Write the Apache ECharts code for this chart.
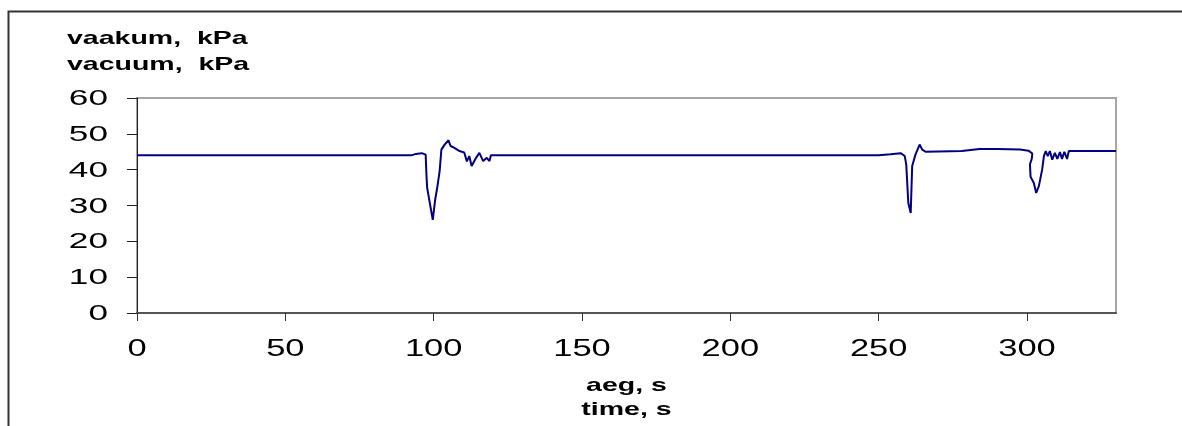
<!DOCTYPE html>
<html>
<head>
<meta charset="utf-8">
<script src="https://cdn.jsdelivr.net/npm/echarts@6/dist/echarts.min.js"></script>
<style>
html,body{margin:0;padding:0;background:#fff;}
#chart{width:1182px;height:426px;}
</style>
</head>
<body>
<div id="chart"></div>
<script>
// ---- data ----
var timeS = [0,10,20,30,40,50,60,70,80,90,92.5,94,96,97.3,97.6,97.8,98.3,99.7,100.5,101.2,102,102.6,103.7,105,105.7,107,108.7,110.3,111.2,112,112.8,114.3,115.4,116,116.7,117.9,118.8,119.3,130,150,170,190,210,230,250,254,257.4,258.8,259.3,260,260.8,261.3,262.4,263.8,264.7,265.8,270,278,284,290,297.7,300.5,301.8,301.6,301.0,301.2,302.3,303.1,304,305.1,305.7,306.3,307,307.7,308.5,309.4,310.2,311.1,311.8,312.6,313.5,314.1,320,330];
var vacuumKPa = [44,44,44,44,44,44,44,44,44,44,44,44.4,44.6,44.2,38,35,32.6,26,31.6,35,39.5,45.6,47,48.2,46.6,46.1,45.2,44.8,42.3,43.8,41,43.3,44.7,45.2,42.4,43.3,42.4,44,44,44,44,44,44,44,44,44.3,44.6,43.8,41.4,30.7,27.9,41,44.2,47,45.6,45,45.1,45.2,45.8,45.8,45.6,45.3,44.5,43,41.5,38,36.3,33.5,35.4,40,43.8,45.2,43.8,45.2,42.8,44.7,43,44.9,43,45,43,45.2,45.2,45.2];
var xTicks = [0,50,100,150,200,250,300];
var yTicks = [0,10,20,30,40,50,60];
var yTitleLines = ['vaakum,  kPa', 'vacuum,  kPa'];
var xTitleLines = ['aeg, s', 'time, s'];

var points = timeS.map(function(t,i){ return [t, vacuumKPa[i]]; });

var chart = echarts.init(document.getElementById('chart'));
var FONT = '"Liberation Sans", Arial, sans-serif';

chart.setOption({
  animation: false,
  backgroundColor: '#fff',
  grid: {left: 137, top: 98, width: 979, height: 215, show: true,
         borderColor: '#a6a6a6', borderWidth: 2, backgroundColor: 'transparent'},
  xAxis: {
    type: 'value', min: 0, max: 330, interval: 50,
    axisLine: {show: true, onZero: false, lineStyle: {color: '#555', width: 2}},
    axisTick: {show: true, length: 8, inside: false, customValues: xTicks, lineStyle: {color: '#333', width: 1}},
    axisLabel: {show: false},
    splitLine: {show: false}
  },
  yAxis: {
    type: 'value', min: 0, max: 60, interval: 10,
    axisLine: {show: true, lineStyle: {color: '#222', width: 1}},
    axisTick: {show: true, length: 10, inside: false, customValues: yTicks, lineStyle: {color: '#222', width: 1}},
    axisLabel: {show: false},
    splitLine: {show: false}
  },
  series: [{
    type: 'line', data: points, showSymbol: false, symbol: 'none',
    lineStyle: {color: '#000080', width: 2}, smooth: false, clip: true
  }]
});

var g = [];
g.push({type: 'rect', shape: {x: 8.5, y: 11.5, width: 1300, height: 700},
        style: {fill: 'none', stroke: '#333', lineWidth: 2}, silent: true, z: -1});

function txt(x, y, s, size, weight, align, sx) {
  return {type: 'text', x: x, y: y, scaleX: sx, silent: true,
    style: {text: s, font: weight + ' ' + size + 'px ' + FONT, fill: '#000',
      align: align, textAlign: align, verticalAlign: 'middle', textVerticalAlign: 'middle'}};
}
yTicks.forEach(function(v){
  var py = chart.convertToPixel({yAxisIndex: 0}, v);
  g.push(txt(108, py + 1, String(v), 22, 'normal', 'right', 1.6));
});
xTicks.forEach(function(v){
  var px = chart.convertToPixel({xAxisIndex: 0}, v);
  g.push(txt(px, 350, String(v), 23, 'normal', 'center', 1.5));
});
g.push(txt(67, 39, yTitleLines[0], 19, 'bold', 'left', 1.5));
g.push(txt(67, 64.5, yTitleLines[1], 19, 'bold', 'left', 1.5));
g.push(txt(626.5, 386, xTitleLines[0], 19, 'bold', 'center', 1.5));
g.push(txt(626.5, 410, xTitleLines[1], 19, 'bold', 'center', 1.5));

chart.setOption({graphic: {elements: g}});
</script>
</body>
</html>
